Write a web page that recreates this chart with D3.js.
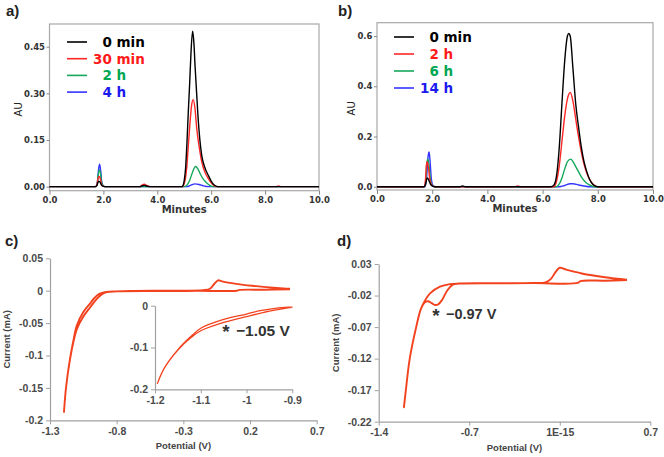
<!DOCTYPE html>
<html><head><meta charset="utf-8">
<script src="https://cdn.jsdelivr.net/npm/d3@7"></script>
<style>body{margin:0;background:#fff}svg{display:block}</style>
</head><body>
<script>
// ---------- DATA ----------
// Panel a (HPLC, minutes vs AU)
const aLegend = ["0 min", "30 min", "2 h", "4 h"];
const a_0min = [[0,0],[1.7,0],[1.76,0.004],[1.8,0.014],[1.84,0.017],[1.88,0.014],[1.93,0.005],[2.0,0.001],[2.1,0],[3.35,0],[3.45,0.003],[3.52,0.004],[3.6,0.002],[3.7,0],[4.9,0],[4.95,0.003],[5.0,0.02],[5.05,0.06],[5.1,0.14],[5.15,0.24],[5.2,0.33],[5.25,0.43],[5.31,0.50],[5.36,0.46],[5.4,0.39],[5.46,0.30],[5.5,0.24],[5.58,0.15],[5.65,0.10],[5.75,0.065],[5.9,0.035],[6.0,0.018],[6.1,0.006],[6.2,0.001],[6.3,0],[10,0]];
const a_30min = [[0,0],[1.7,0],[1.76,0.006],[1.8,0.026],[1.84,0.033],[1.88,0.027],[1.93,0.008],[2.0,0.001],[2.1,0],[3.35,0],[3.45,0.006],[3.52,0.008],[3.6,0.004],[3.7,0.001],[3.8,0],[4.95,0],[5.0,0.01],[5.05,0.03],[5.1,0.07],[5.15,0.13],[5.2,0.19],[5.27,0.26],[5.33,0.28],[5.4,0.25],[5.46,0.19],[5.55,0.13],[5.65,0.08],[5.75,0.05],[5.9,0.025],[6.0,0.012],[6.1,0.004],[6.2,0],[8.4,0],[8.5,0.002],[8.6,0],[10,0]];
const a_2h = [[0,0],[1.72,0],[1.77,0.01],[1.81,0.04],[1.85,0.054],[1.89,0.045],[1.93,0.015],[2.0,0.002],[2.1,0],[5.0,0],[5.1,0.005],[5.2,0.02],[5.3,0.045],[5.42,0.065],[5.5,0.058],[5.6,0.04],[5.7,0.025],[5.8,0.015],[5.9,0.007],[6.0,0.002],[6.1,0],[10,0]];
const a_4h = [[0,0],[1.72,0],[1.78,0.015],[1.82,0.055],[1.86,0.072],[1.9,0.05],[1.94,0.015],[2.0,0.002],[2.1,0],[5.1,0],[5.25,0.005],[5.4,0.009],[5.55,0.007],[5.7,0.003],[5.9,0],[10,0]];
const aYTicks = [0, 0.15, 0.30, 0.45];

// Panel b
const bLegend = ["0 min", "2 h", "6 h", "14 h"];
const b_0min = [[0,0],[1.7,0],[1.76,0.01],[1.8,0.03],[1.83,0.035],[1.88,0.025],[1.95,0.008],[2.05,0.001],[2.15,0],[3.0,0],[3.1,0.003],[3.2,0],[6.3,0],[6.4,0.005],[6.5,0.04],[6.6,0.15],[6.7,0.33],[6.8,0.5],[6.9,0.6],[6.95,0.61],[7.0,0.6],[7.1,0.47],[7.2,0.33],[7.3,0.24],[7.4,0.16],[7.5,0.1],[7.6,0.06],[7.7,0.03],[7.8,0.012],[7.9,0.003],[8.0,0],[10,0]];
const b_2h = [[0,0],[1.7,0],[1.75,0.02],[1.79,0.085],[1.82,0.1],[1.86,0.08],[1.92,0.025],[2.0,0.004],[2.1,0],[5.0,0],[5.1,0.003],[5.2,0],[6.4,0],[6.5,0.02],[6.6,0.08],[6.7,0.18],[6.8,0.28],[6.9,0.35],[7.0,0.375],[7.1,0.34],[7.2,0.27],[7.3,0.2],[7.4,0.14],[7.5,0.09],[7.6,0.055],[7.7,0.03],[7.8,0.013],[7.9,0.004],[8.0,0],[10,0]];
const b_6h = [[0,0],[1.72,0],[1.77,0.03],[1.81,0.1],[1.85,0.11],[1.89,0.08],[1.94,0.025],[2.02,0.003],[2.1,0],[6.5,0],[6.6,0.01],[6.7,0.035],[6.8,0.07],[6.9,0.1],[7.02,0.11],[7.1,0.1],[7.2,0.08],[7.3,0.06],[7.4,0.04],[7.5,0.025],[7.6,0.014],[7.7,0.007],[7.8,0.002],[7.9,0],[10,0]];
const b_14h = [[0,0],[1.74,0],[1.8,0.04],[1.85,0.12],[1.89,0.138],[1.93,0.09],[1.97,0.03],[2.03,0.004],[2.1,0],[6.6,0],[6.8,0.005],[7.0,0.012],[7.1,0.012],[7.3,0.007],[7.5,0.003],[7.7,0],[10,0]];
const bYTicks = [0, 0.2, 0.4, 0.6];
const minuteTicks = [0, 2, 4, 6, 8, 10];

// Panel c (CV, potential V vs current mA)
const c_cv = [[0.5,0.002],[0.3,0.0015],[0.12,0.0012],[0.1,0.0],[-0.2,-0.0003],[-0.5,-0.0006],[-0.8,-0.001],[-0.88,-0.002],[-0.93,-0.005],[-0.97,-0.012],[-1.0,-0.02],[-1.05,-0.033],[-1.1,-0.054],[-1.12,-0.072],[-1.15,-0.105],[-1.18,-0.15],[-1.195,-0.187],
  [-1.18,-0.15],[-1.15,-0.106],[-1.12,-0.075],[-1.1,-0.06],[-1.05,-0.04],[-1.0,-0.026],[-0.95,-0.013],[-0.9,-0.004],[-0.85,-0.0015],[-0.7,-0.0005],[-0.4,0],[-0.15,0.0008],[-0.1,0.003],[-0.07,0.01],[-0.04,0.016],[-0.01,0.0145],[0.05,0.012],[0.15,0.009],[0.25,0.007],[0.35,0.005],[0.45,0.0035],[0.5,0.003]];
const cXTicks = [-1.3, -0.8, -0.3, 0.2, 0.7];
const cYTicks = [0.05, 0, -0.05, -0.1, -0.15, -0.2];
const cInsetXTicks = [-1.2, -1.1, -1, -0.9];
const cInsetYTicks = [0, -0.1, -0.2];
const cNote = "−1.05 V";

// Panel d
const d_cv = [[0.52,0.0045],[0.35,0.0035],[0.16,0.003],[0.14,0.0],[-0.2,-0.0003],[-0.5,-0.0005],[-0.78,-0.001],[-0.83,-0.003],[-0.87,-0.012],[-0.91,-0.027],[-0.94,-0.034],[-0.965,-0.035],[-0.99,-0.032],[-1.02,-0.029],[-1.045,-0.031],[-1.075,-0.042],[-1.11,-0.07],[-1.16,-0.12],[-1.19,-0.17],[-1.205,-0.197],
  [-1.19,-0.17],[-1.16,-0.12],[-1.11,-0.07],[-1.075,-0.042],[-1.045,-0.029],[-1.003,-0.0165],[-0.926,-0.006],[-0.85,-0.002],[-0.78,-0.001],[-0.5,-0.0005],[-0.2,0],[-0.11,0.001],[-0.07,0.006],[-0.03,0.018],[0.0,0.024],[0.05,0.021],[0.17,0.015],[0.35,0.009],[0.52,0.005]];
const dXTicks = [-1.4, -0.7, 0, 0.7];
const dXTickLabels = ["-1.4", "-0.7", "1E-15", "0.7"];
const dYTicks = [0.03, -0.02, -0.07, -0.12, -0.17, -0.22];
const dNote = "−0.97 V";

// ---------- DRAWING ----------
const svg = d3.select("body").append("svg").attr("width", 664).attr("height", 457);
const seriesColors = ["#000000", "#ff2626", "#16a85a", "#3434ff"];
const legendColors = ["#000000", "#ff1a1a", "#00a651", "#1a1aee"];
const FS = "'DejaVu Sans', Verdana, sans-serif";
const AR = "'Liberation Sans', Arial, sans-serif";
const cvColor = "#f2421e";

function chromPanel(o) {
  const g = svg.append("g");
  const x = d3.scaleLinear().domain([0, 10]).range(o.xr);
  const y = d3.scaleLinear().domain(o.yd).range(o.yr);
  g.append("rect").attr("x", o.xr[0]).attr("y", o.yr[1]).attr("width", o.xr[1]-o.xr[0]).attr("height", o.yr[0]-o.yr[1])
    .attr("fill", "none").attr("stroke", "#a8a8a8").attr("stroke-width", 1.2);
  const xa = g.append("g").attr("transform", `translate(0,${o.yr[0]})`)
    .call(d3.axisBottom(x).tickValues(minuteTicks).tickFormat(d3.format(".1f")).tickSize(4).tickSizeOuter(0).tickPadding(2));
  const ya = g.append("g").attr("transform", `translate(${o.xr[0]},0)`)
    .call(d3.axisLeft(y).tickValues(o.yTicks).tickFormat(d3.format(o.fmt)).tickSize(3).tickSizeOuter(0).tickPadding(1.5));
  [xa, ya].forEach(a => {
    a.select(".domain").remove();
    a.selectAll("line").attr("stroke", "#888");
    a.selectAll("text").attr("font-family", FS).attr("font-weight", "bold").attr("font-size", 8.5).attr("fill", "#333");
  });
  const line = d3.line().x(d => x(d[0])).y(d => y(d[1])).curve(d3.curveMonotoneX);
  const order = [3, 2, 1, 0];
  order.forEach(i => {
    g.append("path").attr("d", line(o.series[i])).attr("fill", "none")
      .attr("stroke", seriesColors[i]).attr("stroke-width", 1.4).attr("stroke-linejoin", "round");
  });
  // legend
  o.legend.forEach((lab, i) => {
    const yy = o.legY + i * o.legDy;
    g.append("line").attr("x1", o.legX).attr("x2", o.legX + 20).attr("y1", yy).attr("y2", yy)
      .attr("stroke", seriesColors[i]).attr("stroke-width", 1.6);
    const num = lab.split(" ")[0];
    const txt = (num.length < 2 ? "\u2007" : "") + lab;
    g.append("text").attr("x", o.legX + 26).attr("y", yy + 5).text(txt)
      .attr("font-family", FS).attr("font-weight", "bold").attr("font-size", 13.5).attr("fill", legendColors[i])
      .style("white-space", "pre");
  });
  g.append("text").attr("x", (o.xr[0]+o.xr[1])/2).attr("y", o.yr[0] + 22).attr("text-anchor", "middle")
    .text("Minutes").attr("font-family", FS).attr("font-weight", "bold").attr("font-size", 10).attr("fill", "#333");
  g.append("text").attr("transform", `translate(${o.auX},${(o.yr[0]+o.yr[1])/2 + 2}) rotate(-90)`).attr("text-anchor", "middle")
    .text("AU").attr("font-family", FS).attr("font-size", 10).attr("fill", "#222");
  g.append("text").attr("x", o.tagX).attr("y", o.tagY).text(o.tag)
    .attr("font-family", AR).attr("font-size", 15).attr("font-weight", "bold").attr("fill", "#222");
}

chromPanel({xr: [49.5, 319], yr: [190.7, 24], yd: [-0.013, 0.523], yTicks: aYTicks, fmt: ".2f",
  series: [a_0min, a_30min, a_2h, a_4h], legend: aLegend, legX: 67, legY: 42, legDy: 16.7, auX: 22, tag: "a)", tagX: 6, tagY: 16});
chromPanel({xr: [377, 653], yr: [190, 22.7], yd: [-0.013, 0.653], yTicks: bYTicks, fmt: ".1f",
  series: [b_0min, b_2h, b_6h, b_14h], legend: bLegend, legX: 394, legY: 37, legDy: 17, auX: 355, tag: "b)", tagX: 338, tagY: 16});

function styleCVAxis(a, fs) {
  a.select(".domain").attr("stroke", "#a0a0a0").attr("stroke-width", 1.2);
  a.selectAll("line").attr("stroke", "#a0a0a0");
  a.selectAll("text").attr("font-family", AR).attr("font-size", fs).attr("font-weight", "bold").attr("fill", "#4a4a4a");
}

function cvPanel(o) {
  const g = svg.append("g");
  const x = d3.scaleLinear().domain(o.xd).range(o.xr);
  const y = d3.scaleLinear().domain(o.yd).range(o.yr);
  const xa = g.append("g").attr("transform", `translate(0,${o.yr[0]})`)
    .call(d3.axisBottom(x).tickValues(o.xTicks).tickFormat((d, i) => o.xLabels ? o.xLabels[i] : String(d)).tickSize(4).tickSizeOuter(0).tickPadding(3));
  const ya = g.append("g").attr("transform", `translate(${o.xr[0]},0)`)
    .call(d3.axisLeft(y).tickValues(o.yTicks).tickFormat(d => String(d)).tickSize(4).tickSizeOuter(0).tickPadding(3));
  styleCVAxis(xa, 10.5); styleCVAxis(ya, 10.5);
  const line = d3.line().x(d => x(d[0])).y(d => y(d[1])).curve(d3.curveCatmullRom.alpha(0.5));
  g.append("path").attr("d", line(o.data)).attr("fill", "none").attr("stroke", cvColor)
    .attr("stroke-width", 1.9).attr("stroke-linejoin", "round");
  g.append("text").attr("x", (o.xr[0]+o.xr[1])/2).attr("y", o.yr[0] + 29).attr("text-anchor", "middle")
    .text("Potential (V)").attr("font-family", AR).attr("font-weight", "bold").attr("font-size", 9.5).attr("fill", "#444");
  g.append("text").attr("transform", `translate(${o.curX},${(o.yr[0]+o.yr[1])/2}) rotate(-90)`).attr("text-anchor", "middle")
    .text("Current (mA)").attr("font-family", AR).attr("font-weight", "bold").attr("font-size", 9.5).attr("fill", "#444");
  g.append("text").attr("x", o.tagX).attr("y", o.tagY).text(o.tag)
    .attr("font-family", AR).attr("font-size", 15).attr("font-weight", "bold").attr("fill", "#222");
  // annotation
  g.append("text").attr("x", o.note[0]).attr("y", o.note[1] + 7).attr("text-anchor", "middle").text("*")
    .attr("font-family", AR).attr("font-size", 19).attr("font-weight", "bold").attr("fill", "#333");
  g.append("text").attr("x", o.note[0] + 10).attr("y", o.note[1] + 4.5).text(o.noteText)
    .attr("font-family", AR).attr("font-size", o.noteFs).attr("font-weight", "bold").attr("fill", "#333");
  return {g, x, y, line};
}

cvPanel({xd: [-1.3, 0.7], xr: [50, 316.7], yd: [-0.2, 0.05], yr: [420.3, 258.3], xTicks: cXTicks, yTicks: cYTicks,
  data: c_cv, curX: 10, tag: "c)", tagX: 5, tagY: 246, note: [226, 331], noteText: cNote, noteFs: 15.5});
cvPanel({xd: [-1.4, 0.7], xr: [378.7, 650.3], yd: [-0.22, 0.03], yr: [421.7, 264], xTicks: dXTicks, xLabels: dXTickLabels, yTicks: dYTicks,
  data: d_cv, curX: 339, tag: "d)", tagX: 337, tagY: 246, note: [436, 314.5], noteText: dNote, noteFs: 14.5});

// Inset for panel c
(function () {
  const g = svg.append("g");
  const x = d3.scaleLinear().domain([-1.2, -0.9]).range([155, 292.3]);
  const y = d3.scaleLinear().domain([-0.2, 0]).range([389.3, 305.7]);
  const xa = g.append("g").attr("transform", "translate(0,389.3)")
    .call(d3.axisBottom(x).tickValues(cInsetXTicks).tickFormat(d => String(d)).tickSize(4).tickSizeOuter(0).tickPadding(3));
  const ya = g.append("g").attr("transform", "translate(155,0)")
    .call(d3.axisLeft(y).tickValues(cInsetYTicks).tickFormat(d => String(d)).tickSize(4).tickSizeOuter(0).tickPadding(3));
  styleCVAxis(xa, 10.5); styleCVAxis(ya, 10.5);
  svg.append("clipPath").attr("id", "insetClip").append("rect").attr("x", 155).attr("y", 300).attr("width", 137.5).attr("height", 90);
  const line = d3.line().x(d => x(d[0])).y(d => y(d[1])).curve(d3.curveCatmullRom.alpha(0.5));
  g.append("path").attr("d", line(c_cv.filter(d => d[0] <= -0.85))).attr("clip-path", "url(#insetClip)")
    .attr("fill", "none").attr("stroke", cvColor).attr("stroke-width", 1.3);
})();
</script>
</body></html>
